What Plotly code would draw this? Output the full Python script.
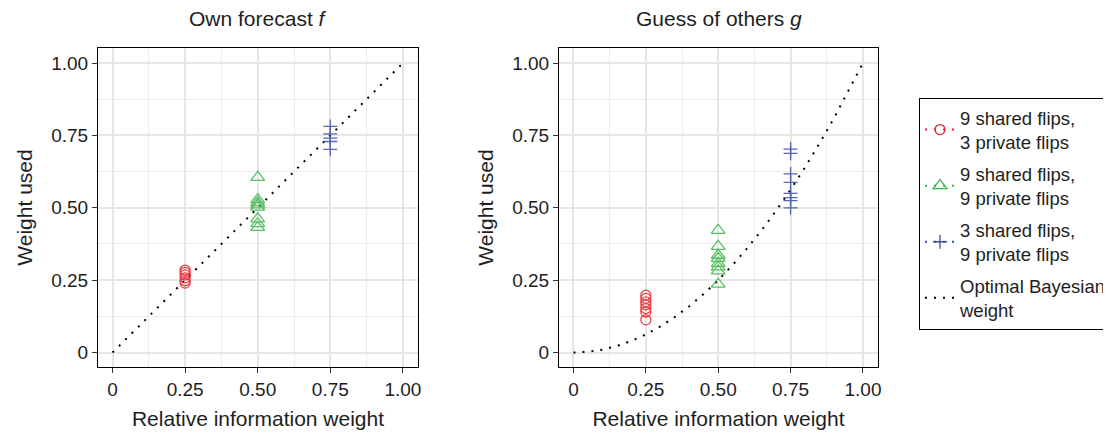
import plotly.graph_objects as go

# ---------------- data ----------------
series_names = ["9 shared flips,<br>3 private flips",
                "9 shared flips,<br>9 private flips",
                "3 shared flips,<br>9 private flips"]
series_x = [0.25, 0.50, 0.75]

own_red = [0.285, 0.277, 0.268, 0.258, 0.248, 0.240]
own_green = [0.605, 0.528, 0.518, 0.510, 0.502, 0.462, 0.445, 0.432]
own_blue = [0.781, 0.755, 0.741, 0.729, 0.702]

oth_red = [0.198, 0.187, 0.175, 0.165, 0.152, 0.140, 0.113]
oth_green = [0.422, 0.367, 0.336, 0.325, 0.308, 0.296, 0.282, 0.236]
oth_blue = [0.703, 0.688, 0.617, 0.588, 0.550, 0.535, 0.525, 0.500]

opt_own_x = [0.0, 1.0]
opt_own_y = [0.0, 1.0]
opt_oth_x = [0.0, 0.05, 0.10, 0.15, 0.20, 0.25, 0.30, 0.35, 0.40, 0.45, 0.50,
             0.55, 0.60, 0.65, 0.70, 0.75, 0.80, 0.85, 0.90, 0.95, 1.0]
opt_oth_y = [0.0, 0.0025, 0.01, 0.0225, 0.04, 0.0625, 0.09, 0.1225, 0.16, 0.2025, 0.25,
             0.3025, 0.36, 0.4225, 0.49, 0.5625, 0.64, 0.7225, 0.81, 0.9025, 1.0]

tick_vals = [0, 0.25, 0.5, 0.75, 1.0]
tick_text = ["0", "0.25", "0.50", "0.75", "1.00"]

# ---------------- styles ----------------
colors = ["#e8232b", "#3db54a", "#3a4ea6"]
symbols = ["circle-open", "triangle-up-open", "cross-thin-open"]
sizes = [10, 12, 10]
FONT = "Liberation Sans, Arial, Helvetica, sans-serif"
TXT = "#1e1e1e"
DOT = "2px,7px"
W, H = 1111, 434
OFF = 8  # page offset of the figure in the browser


def px_x(p):
    return (p - OFF) / W


def px_y(p):
    return 1 - (p - OFF) / H


fig = go.Figure()

panels = [
    ("x", "y", [own_red, own_green, own_blue], opt_own_x, opt_own_y),
    ("x2", "y2", [oth_red, oth_green, oth_blue], opt_oth_x, opt_oth_y),
]
for xa, ya, groups, ox, oy in panels:
    fig.add_trace(go.Scatter(x=ox, y=oy, mode="lines", xaxis=xa, yaxis=ya,
                             line=dict(color="black", width=2, dash=DOT),
                             showlegend=False, hoverinfo="skip"))
    for i, vals in enumerate(groups):
        fig.add_trace(go.Scatter(
            x=[series_x[i]] * len(vals), y=vals, mode="markers",
            xaxis=xa, yaxis=ya, showlegend=False, opacity=0.85,
            marker=dict(symbol=symbols[i], size=sizes[i], color=colors[i],
                        line=dict(color=colors[i], width=1.3))))

# legend-only entries
for i in range(3):
    fig.add_trace(go.Scatter(
        x=[None], y=[None], mode="lines+markers", name=series_names[i],
        legendgroup=f"g{i}",
        line=dict(color=colors[i], width=2, dash=DOT),
        marker=dict(symbol=symbols[i], size=sizes[i], color=colors[i],
                    line=dict(color=colors[i], width=1.3))))
fig.add_trace(go.Scatter(
    x=[None], y=[None], mode="lines", name="Optimal Bayesian<br>weight",
    legendgroup="g3", line=dict(color="black", width=2, dash=DOT)))

axis_common = dict(
    range=[-0.05, 1.052], tickvals=tick_vals, ticktext=tick_text,
    showgrid=True, gridcolor="#e6e6e6", gridwidth=1.6,
    minor=dict(tick0=0.125, dtick=0.25, showgrid=True, gridcolor="#ececec", gridwidth=0.8),
    zeroline=False, showline=True, linecolor="black", linewidth=1, mirror=True,
    ticks="outside", ticklen=5, tickcolor="#333333", tickwidth=1,
    tickfont=dict(family=FONT, size=19, color=TXT),
    automargin=False,
)

x_title = dict(text="Relative information weight", font=dict(family=FONT, size=21, color=TXT), standoff=12)
y_title = dict(text="Weight used", font=dict(family=FONT, size=21, color=TXT), standoff=12)

ydom = [px_y(367), px_y(48)]
fig.update_layout(
    width=W, height=H,
    margin=dict(l=0, r=0, t=0, b=0, autoexpand=False),
    paper_bgcolor="white", plot_bgcolor="white",
    xaxis=dict(domain=[px_x(98), px_x(418)], anchor="y", title=x_title, **axis_common),
    yaxis=dict(domain=ydom, anchor="x", title=y_title, **axis_common),
    xaxis2=dict(domain=[px_x(559), px_x(878)], anchor="y2", title=x_title, **axis_common),
    yaxis2=dict(domain=ydom, anchor="x2", title=y_title, **axis_common),
    legend=dict(x=px_x(919), y=px_y(98), xanchor="left", yanchor="top",
                bordercolor="black", borderwidth=1, bgcolor="white",
                font=dict(family=FONT, size=18.5, color=TXT),
                tracegroupgap=5, itemwidth=30),
    showlegend=True,
    annotations=[
        dict(text="Own forecast <i>f</i>", x=px_x((98 + 418) / 2), y=px_y(18),
             xref="paper", yref="paper", showarrow=False, xanchor="center", yanchor="middle",
             font=dict(family=FONT, size=21, color=TXT)),
        dict(text="Guess of others <i>g</i>", x=px_x((559 + 878) / 2), y=px_y(18),
             xref="paper", yref="paper", showarrow=False, xanchor="center", yanchor="middle",
             font=dict(family=FONT, size=21, color=TXT)),
    ],
)

fig.write_html("out.html")
